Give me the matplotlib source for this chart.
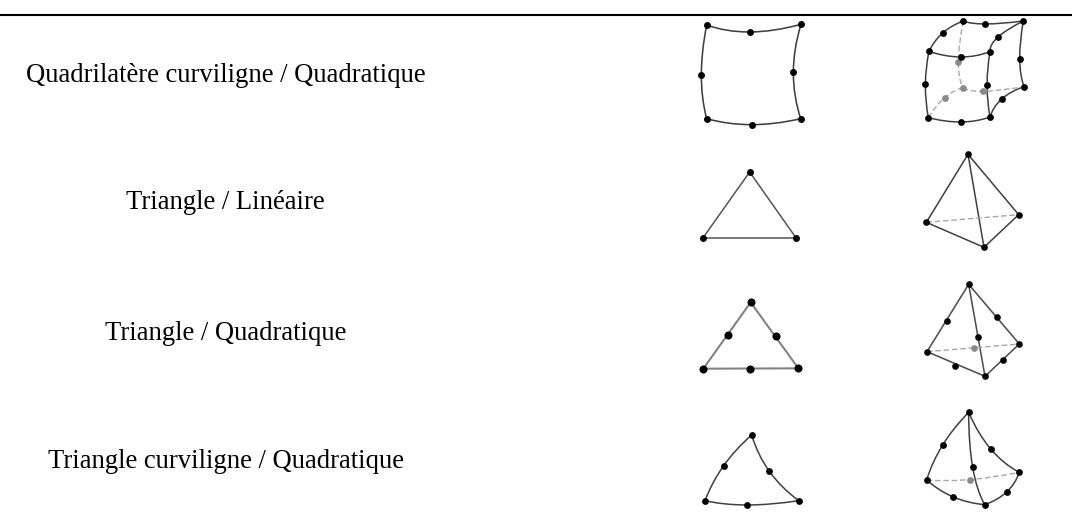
import numpy as np
import matplotlib
matplotlib.use("Agg")
import matplotlib.pyplot as plt
from matplotlib.path import Path
from matplotlib.patches import PathPatch

labels = ["Quadrilatère curviligne / Quadratique", "Triangle / Linéaire",
          "Triangle / Quadratique", "Triangle curviligne / Quadratique"]
label_x = [226, 225.5, 226, 225.5]
label_y = [81.5, 209, 340, 468]
rule_y = 15


def z(x, y, y0):
    return (680 + x / 3, y0 + y / 3)


# Each edge: (start, midpoint or None, end); dashed edges are hidden edges
quad2d_nodes = [z(*p, 0) for p in [(80, 75), (210, 96), (363, 73), (340, 217), (362, 356), (215, 374), (80, 356), (64, 226)]]
quad2d_edges = [(0, 1, 2), (2, 3, 4), (4, 5, 6), (6, 7, 0)]

hex_nodes = [z(*p, 0) for p in [
    (850, 63), (916, 72), (1030, 63), (788, 99), (953, 112), (747, 154), (842, 171), (930, 155),
    (1019, 176), (1032, 260), (921, 255), (930, 351), (965, 297), (736, 253), (745, 353), (844, 366),
    (835, 186), (849, 263), (794, 293), (909, 274)]]
hex_edges = [(0, 1, 2), (5, 3, 0), (7, 4, 2), (5, 6, 7), (2, 8, 9), (7, 10, 11), (9, 12, 11), (5, 13, 14), (14, 15, 11)]
hex_hidden = [(0, 16, 17), (14, 18, 17), (17, 19, 9)]
hex_grey = [16, 17, 18, 19]

tri2d_nodes = [z(*p, 140) for p in [(209, 96), (68, 295), (349, 295)]]
tri2d_edges = [(0, None, 1), (1, None, 2), (2, None, 0)]
tet_nodes = [z(*p, 140) for p in [(864, 43), (739, 247), (1016, 224), (912, 322)]]
tet_edges = [(0, None, 1), (0, None, 2), (0, None, 3), (1, None, 3), (3, None, 2)]
tet_hidden = [(1, None, 2)]

tri6_nodes = [z(*p, 270) for p in [(212, 97), (143, 195), (288, 197), (70, 296), (209, 296), (355, 295)]]
tri6_edges = [(0, None, 3), (0, None, 5), (3, None, 5)]
tet10_nodes = [z(*p, 270) for p in [(866, 43), (802, 152), (950, 141), (894, 200), (741, 245), (1018, 222),
                                    (826, 287), (969, 271), (915, 319), (882, 234)]]
tet10_edges = [(0, None, 4), (0, None, 5), (0, None, 8), (4, None, 8), (8, None, 5)]
tet10_hidden = [(4, None, 5)]
tet10_grey = [9]

ctri_nodes = [z(*p, 395) for p in [(215, 120), (131, 212), (268, 229), (75, 317), (202, 330), (356, 317)]]
ctri_edges = [(0, 1, 3), (0, 2, 5), (3, 4, 5)]
ctet_nodes = [z(*p, 395) for p in [(866, 52), (788, 150), (932, 162), (878, 217), (740, 255), (1018, 232),
                                   (820, 306), (980, 291), (914, 329), (869, 254)]]
ctet_edges = [(0, 1, 4), (0, 2, 5), (0, 3, 8), (4, 6, 8), (8, 7, 5)]
ctet_hidden = [(4, 9, 5)]
ctet_grey = [9]

# nodes, edges, hidden edges, grey nodes, marker size, edge colour, edge width
shapes = [
    (quad2d_nodes, quad2d_edges, [], [], 5.0, "#404040", 1.15),
    (hex_nodes, hex_edges, hex_hidden, hex_grey, 4.9, "#404040", 1.1),
    (tri2d_nodes, tri2d_edges, [], [], 5.0, "#555555", 1.1),
    (tet_nodes, tet_edges, tet_hidden, [], 4.8, "#404040", 1.1),
    (tri6_nodes, tri6_edges, [], [], 5.8, "#808080", 1.45),
    (tet10_nodes, tet10_edges, tet10_hidden, tet10_grey, 4.8, "#505050", 1.15),
    (ctri_nodes, ctri_edges, [], [], 4.9, "#404040", 1.1),
    (ctet_nodes, ctet_edges, ctet_hidden, ctet_grey, 4.9, "#404040", 1.1),
]

fig = plt.figure(figsize=(10.72, 5.22), dpi=100)
ax = fig.add_axes([0, 0, 1, 1])
ax.set_xlim(0, 1072)
ax.set_ylim(522, 0)
ax.axis("off")

ax.plot([0, 1072], [rule_y, rule_y], color="black", lw=1.5, solid_capstyle="butt")

for text, x, y in zip(labels, label_x, label_y):
    ax.text(x, y, text, ha="center", va="baseline", family="Liberation Serif", fontsize=19.2, color="black")


def edge_path(nodes, edge):
    a, m, b = edge
    pa, pb = np.array(nodes[a]), np.array(nodes[b])
    if m is None:
        return Path([pa, pb], [Path.MOVETO, Path.LINETO])
    pm = np.array(nodes[m])
    ctrl = 2 * pm - (pa + pb) / 2
    return Path([pa, ctrl, pb], [Path.MOVETO, Path.CURVE3, Path.CURVE3])


for nodes, edges, hidden, grey, ms, col, lw in shapes:
    for e in edges:
        ax.add_patch(PathPatch(edge_path(nodes, e), fill=False, edgecolor=col, lw=lw))
    for e in hidden:
        ax.add_patch(PathPatch(edge_path(nodes, e), fill=False, edgecolor="#a8a8a8", lw=1.0, linestyle=(0, (4, 2))))
    black = [p for i, p in enumerate(nodes) if i not in grey]
    bx, by = zip(*black)
    ax.plot(bx, by, "o", color="black", ms=ms, mew=0, zorder=5)
    if grey:
        gx, gy = zip(*[nodes[i] for i in grey])
        ax.plot(gx, gy, "o", color="#8a8a8a", ms=ms, mew=0, zorder=4)

fig.savefig("out.png", dpi=100)
